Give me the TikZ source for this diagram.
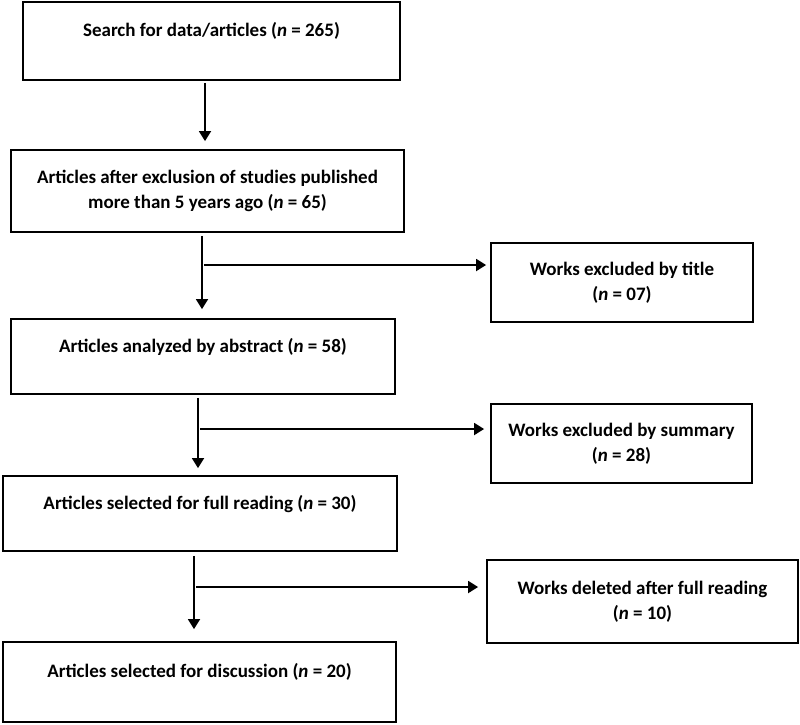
\documentclass[tikz,border=0pt]{standalone}
\usepackage{fontspec}
\setmainfont{Carlito}
\usepackage{tikz}
\usetikzlibrary{arrows.meta, positioning}

\begin{document}
\begin{tikzpicture}[x=1pt, y=-1pt,
    box/.style={draw, line width=1.8pt, align=center,
                font=\bfseries\fontsize{19}{25}\selectfont},
    arr/.style={line width=1.8pt, -{Triangle[length=10pt, width=12pt]}}]
    \useasboundingbox (0,0) rectangle (800,724);

    % Main column
    \node[box, minimum width=377, minimum height=78] (search) at (211.5, 41)
        {Search for data/articles (\textit{n} = 265)\\[-10pt]\strut};
    \node[box, minimum width=393, minimum height=82] (recent) at (207.5, 191)
        {Articles after exclusion of studies published\\more than 5 years ago (\textit{n} = 65)};
    \node[box, minimum width=384, minimum height=75] (abstract) at (203, 356.5)
        {Articles analyzed by abstract (\textit{n} = 58)\\[-10pt]\strut};
    \node[box, minimum width=394, minimum height=75] (fullread) at (200, 513.5)
        {Articles selected for full reading (\textit{n} = 30)\\[-10pt]\strut};
    \node[box, minimum width=393, minimum height=80] (discuss) at (199.5, 682)
        {Articles selected for discussion (\textit{n} = 20)\\[-10pt]\strut};

    % Exclusions
    \node[box, minimum width=262, minimum height=79] (extitle) at (622, 282.5)
        {Works excluded by title\\(\textit{n} = 07)};
    \node[box, minimum width=261, minimum height=79] (exsummary) at (621.5, 443.5)
        {Works excluded by summary\\(\textit{n} = 28)};
    \node[box, minimum width=311, minimum height=83] (exfull) at (642.5, 601.5)
        {Works deleted after full reading\\(\textit{n} = 10)};

    % Junctions
    \coordinate (j1) at (202, 265);
    \coordinate (j2) at (198, 429);
    \coordinate (j3) at (194, 587);

    % Arrows down
    \draw[arr, shorten <=2pt, shorten >=8pt] ([xshift=-6.5pt]search.south) -- ([xshift=-6.5pt]search.south |- recent.north);
    \draw[arr, shorten <=3pt, shorten >=9pt] (recent.south -| j1) -- (abstract.north -| j1);
    \draw[arr, shorten <=3pt, shorten >=7pt] (abstract.south -| j2) -- (fullread.north -| j2);
    \draw[arr, shorten <=4pt, shorten >=12pt] (fullread.south -| j3) -- (discuss.north -| j3);

    % Arrows right
    \draw[arr, shorten >=4pt] ([xshift=2pt]j1) -- (j1 -| extitle.west);
    \draw[arr, shorten >=6pt] ([xshift=2pt]j2) -- (j2 -| exsummary.west);
    \draw[arr, shorten >=8pt] ([xshift=2pt]j3) -- (j3 -| exfull.west);
\end{tikzpicture}
\end{document}
